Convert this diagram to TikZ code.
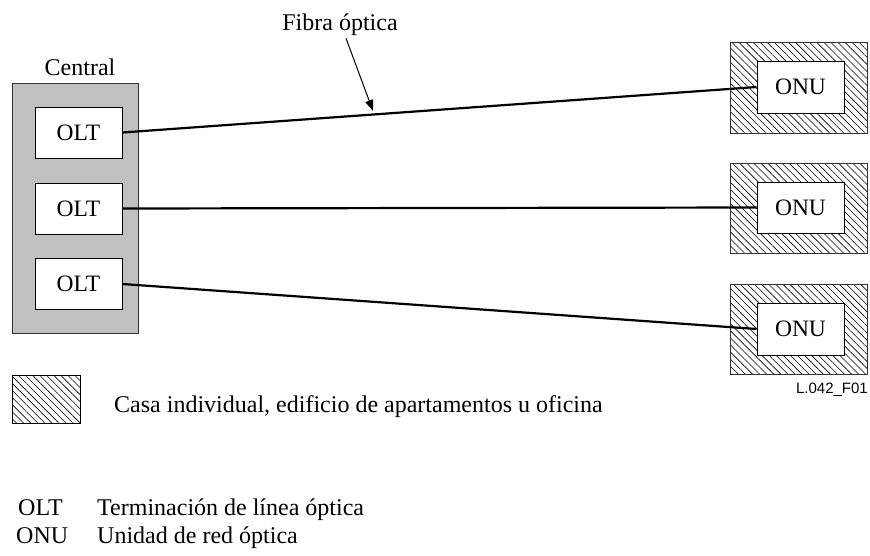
\documentclass[tikz,border=0pt]{standalone}
\usepackage{fontspec}
\setmainfont{Liberation Serif}
\setsansfont{Liberation Sans}
\usetikzlibrary{patterns.meta,arrows.meta}
\definecolor{centralgray}{RGB}{192,192,192}
\begin{document}
\begin{tikzpicture}[x=1pt,y=-1pt,
  txt/.style={font=\fontsize{24}{28}\selectfont, inner sep=0pt},
  box/.style={draw=black, line width=1pt, fill=white, inner sep=0pt, font=\fontsize{23.5}{28}\selectfont},
  house/.style={draw=black!80, line width=1pt, inner sep=0pt,
     pattern={Lines[angle=-45,distance=5pt,line width=0.6pt]}},
  fiber/.style={line width=2.2pt},
]
\useasboundingbox (0,0) rectangle (870,555);
% central office
\node[txt, anchor=base] (centrallbl) at (80,75) {Central};
\node[draw=black!80, line width=1pt, fill=centralgray, minimum width=126pt, minimum height=250pt, inner sep=0pt] (central) at (75.5,208) {};
\node[box, minimum width=87pt, minimum height=51pt] (olt1) at (78.5,132.5) {OLT};
\node[box, minimum width=87pt, minimum height=51pt] (olt2) at (78.5,208.5) {OLT};
\node[box, minimum width=87pt, minimum height=51pt] (olt3) at (78.5,284) {OLT};
% houses
\node[house, minimum width=137pt, minimum height=91pt] (h1) at (798.5,87.5) {};
\node[house, minimum width=137pt, minimum height=90pt] (h2) at (798.5,208) {};
\node[house, minimum width=137pt, minimum height=90pt] (h3) at (798.5,329) {};
\node[box, minimum width=87pt, minimum height=52pt] (onu1) at (800.5,87) {ONU};
\node[box, minimum width=87pt, minimum height=51pt] (onu2) at (800.5,207.5) {ONU};
\node[box, minimum width=87pt, minimum height=52pt] (onu3) at (800.5,329) {ONU};
% fibers
\draw[fiber] (olt1.east) -- (onu1.west);
\draw[fiber] (olt2.east) -- (onu2.west);
\draw[fiber] (olt3.east) -- (onu3.west);
% fibre label
\node[txt, anchor=base] (fibra) at (340,30) {Fibra óptica};
\coordinate (tip) at (373,111);
\draw[line width=1pt, -{Triangle[length=11pt,width=8pt]}] ([xshift=6pt,yshift=-3pt]fibra.south) -- (tip);
% legend
\node[draw=black, line width=1pt, inner sep=0pt, minimum width=68pt, minimum height=48pt,
      pattern={Lines[angle=-45,distance=5pt,line width=0.6pt]}] (leg) at (46,399) {};
\node[txt, anchor=base west] (legtxt) at (114,412) {Casa individual, edificio de apartamentos u oficina};
\node[font=\fontsize{15}{18}\sffamily\selectfont, inner sep=0pt, anchor=base east] (fig) at (868,393) {L.042\_F01};
% abbreviations
\node[txt, anchor=base west] (a1) at (18,515) {OLT};
\node[txt, anchor=base west] (a1t) at (97,515) {Terminación de línea óptica};
\node[txt, anchor=base west] (a2) at (16,543) {ONU};
\node[txt, anchor=base west] (a2t) at (97,543) {Unidad de red óptica};
\end{tikzpicture}
\end{document}
